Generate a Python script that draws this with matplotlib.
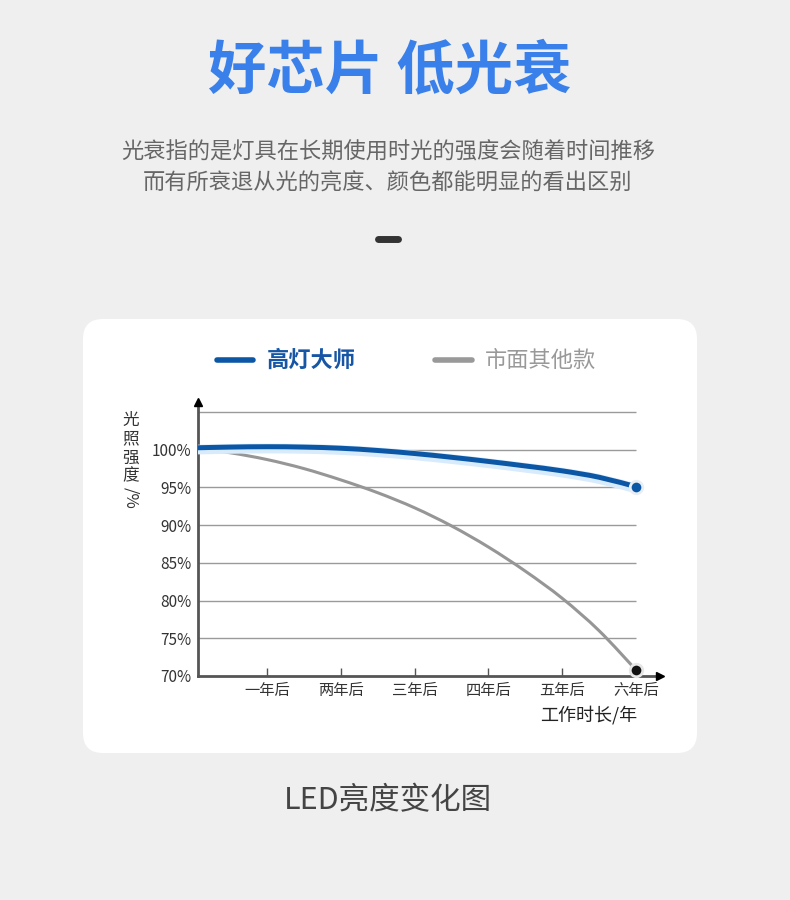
import matplotlib
matplotlib.use("Agg")
import matplotlib.pyplot as plt
import matplotlib.patheffects as pe
from matplotlib.patches import FancyBboxPatch, PathPatch
from matplotlib.path import Path

plt.rcParams['font.family'] = ['Noto Sans CJK SC', 'DejaVu Sans']

# ---------------- data ----------------
years = [0, 0.5, 1, 1.5, 2, 2.5, 3, 3.5, 4, 4.5, 5, 5.5, 6]
gaodeng = [100.25, 100.35, 100.4, 100.35, 100.2, 99.9, 99.5, 99.0, 98.45, 97.85, 97.2, 96.35, 95.1]
market = [100.2, 99.6, 98.7, 97.5, 96.0, 94.3, 92.3, 89.9, 87.1, 83.9, 80.3, 76.0, 70.8]
x_ticks = [1, 2, 3, 4, 5, 6]
x_labels = ["一年后", "两年后", "三年后", "四年后", "五年后", "六年后"]
y_ticks = [70, 75, 80, 85, 90, 95, 100]
y_labels = ["70%", "75%", "80%", "85%", "90%", "95%", "100%"]
grid_levels = [75, 80, 85, 90, 95, 100, 105]
series_names = ["高灯大师", "市面其他款"]

title = "好芯片 低光衰"
subtitle1 = "光衰指的是灯具在长期使用时光的强度会随着时间推移"
subtitle2 = "而有所衰退从光的亮度、颜色都能明显的看出区别"
caption = "LED亮度变化图"
y_title_chars = ["光", "照", "强", "度"]
x_title = "工作时长/年"

BLUE = "#0b57a6"
GRAY = "#999999"

W, H = 790, 900
fig = plt.figure(figsize=(W / 100, H / 100), dpi=100)
fig.patch.set_facecolor("#efefef")

# background / annotation layer in pixel coords
bg = fig.add_axes([0, 0, 1, 1])
bg.set_xlim(0, W)
bg.set_ylim(H, 0)
bg.axis("off")
bg.set_zorder(0)

card = FancyBboxPatch((83, 319), 614, 434, boxstyle="round,pad=0,rounding_size=20",
                      facecolor="white", edgecolor="none")
bg.add_patch(card)

bg.text(390, 72, title, ha="center", va="center", fontsize=42, fontweight="bold",
        color="#3a80ea")
bg.text(388, 152, subtitle1, ha="center", va="center", fontsize=16, color="#666666")
bg.text(388, 183, subtitle2, ha="center", va="center", fontsize=16, color="#666666")
bg.plot([378, 398], [239, 239], color="#333333", lw=5, solid_capstyle="round")

# legend
bg.plot([217, 253], [360, 360], color=BLUE, lw=4, solid_capstyle="round")
bg.text(267, 360, series_names[0], ha="left", va="center", fontsize=16,
        fontweight="bold", color="#1656a5")
bg.plot([435, 472], [360, 360], color=GRAY, lw=4, solid_capstyle="round")
bg.text(485, 360, series_names[1], ha="left", va="center", fontsize=16,
        color="#999999")

# y-axis title (stacked)
for ch, yy in zip(y_title_chars, [420, 439, 458, 476]):
    bg.text(131, yy, ch, ha="center", va="center", fontsize=12, color="#333333")
bg.text(131, 498, "/%", ha="center", va="center", fontsize=12, color="#333333",
        rotation=-90)

bg.text(589, 715, x_title, ha="center", va="center", fontsize=13, color="#222222")
bg.text(388, 801, caption, ha="center", va="center", fontsize=22, fontweight="medium",
        color="#444444")

# ---------------- chart ----------------
left_px, right_px, bottom_px, top_px = 198, 660, 676, 402
ax = fig.add_axes([left_px / W, 1 - bottom_px / H, (right_px - left_px) / W,
                   (bottom_px - top_px) / H])
ax.set_zorder(2)
ax.patch.set_alpha(0)
ax.set_xlim(0.065, 6.325)
ax.set_ylim(70, 106.33)

for s in ["top", "right"]:
    ax.spines[s].set_visible(False)
for s in ["left", "bottom"]:
    ax.spines[s].set_color("#555555")
    ax.spines[s].set_linewidth(2)

ax.hlines(grid_levels, 0.065, 6.0, colors="#9a9a9a", lw=1, zorder=1)

ax.set_yticks(y_ticks)
ax.set_yticklabels(y_labels, fontsize=11, color="#333333")
ax.tick_params(axis="y", length=0, pad=5)
ax.set_xticks(x_ticks)
ax.set_xticklabels(x_labels, fontsize=11, color="#333333")
ax.tick_params(axis="x", direction="in", length=6, width=1, color="#555555", pad=4)

# arrows
ax.plot([0], [1], marker="^", color="black", markersize=6, transform=ax.transAxes,
        clip_on=False, zorder=5)
ax.plot([1], [0], marker=">", color="black", markersize=6, transform=ax.transAxes,
        clip_on=False, zorder=5)


def smooth_path(xs, ys):
    """Cubic Bezier path through the points (Catmull-Rom control handles)."""
    verts = [(xs[0], ys[0])]
    codes = [Path.MOVETO]
    n = len(xs)
    for i in range(n - 1):
        x0, y0 = (xs[i - 1], ys[i - 1]) if i > 0 else (xs[i], ys[i])
        x1, y1 = xs[i], ys[i]
        x2, y2 = xs[i + 1], ys[i + 1]
        x3, y3 = (xs[i + 2], ys[i + 2]) if i + 2 < n else (xs[i + 1], ys[i + 1])
        c1 = (x1 + (x2 - x0) / 6, y1 + (y2 - y0) / 6)
        c2 = (x2 - (x3 - x1) / 6, y2 - (y3 - y1) / 6)
        verts += [c1, c2, (x2, y2)]
        codes += [Path.CURVE4] * 3
    return Path(verts, codes)


gray_patch = PathPatch(smooth_path(years, market), facecolor="none", edgecolor="#969696",
                       lw=2.2, zorder=3, capstyle="round")
ax.add_patch(gray_patch)

blue_patch = PathPatch(smooth_path(years, gaodeng), facecolor="none", edgecolor=BLUE,
                       lw=3.6, zorder=4, capstyle="round",
                       path_effects=[pe.Stroke(linewidth=7, foreground="#d8ebfc",
                                               offset=(0, -1.3)),
                                     pe.Normal()])
ax.add_patch(blue_patch)

ax.plot([years[-1]], [gaodeng[-1]], marker="o", markersize=9, color=BLUE,
        markeredgecolor="#e9eef4", markeredgewidth=2, zorder=6, clip_on=False)
ax.plot([years[-1]], [market[-1]], marker="o", markersize=9, color="#111111",
        markeredgecolor="#e6e6e6", markeredgewidth=2, zorder=6, clip_on=False)

fig.savefig("out.png", dpi=100, facecolor=fig.get_facecolor())
